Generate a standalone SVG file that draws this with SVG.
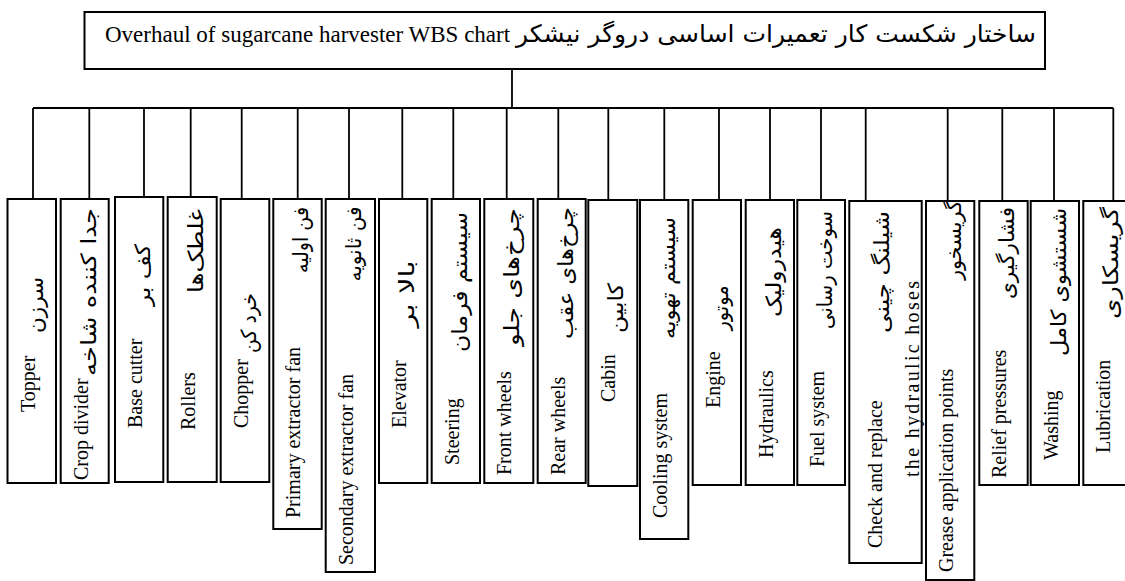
<svg xmlns="http://www.w3.org/2000/svg" width="1125" height="581" viewBox="0 0 1125 581">
<style>
.box{fill:#fff;stroke:#000;stroke-width:2}
.con{stroke:#000;stroke-width:1.8;fill:none}
.en{font-family:"Liberation Serif","Times New Roman",serif;font-size:20px;fill:#000}
.fa{font-family:"DejaVu Sans","Noto Sans",sans-serif;font-size:21px;fill:#000}
.ten{font-family:"Liberation Serif","Times New Roman",serif;font-size:23px;fill:#000}
.tfa{font-family:"DejaVu Sans","Noto Sans",sans-serif;font-size:24px;fill:#000}
</style>
<rect width="1125" height="581" fill="#fff"/>
<g id="connectors">
<line class="con" x1="512" y1="69" x2="512" y2="108"/>
<line class="con" x1="33" y1="108" x2="1113.3" y2="108"/>
<line class="con" x1="33" y1="108" x2="33" y2="199"/>
<line class="con" x1="89.3" y1="108" x2="89.3" y2="199"/>
<line class="con" x1="144" y1="108" x2="144" y2="197"/>
<line class="con" x1="190.7" y1="108" x2="190.7" y2="197"/>
<line class="con" x1="241.7" y1="108" x2="241.7" y2="199"/>
<line class="con" x1="297.7" y1="108" x2="297.7" y2="199"/>
<line class="con" x1="349" y1="108" x2="349" y2="199"/>
<line class="con" x1="402.3" y1="108" x2="402.3" y2="199"/>
<line class="con" x1="453.3" y1="108" x2="453.3" y2="199"/>
<line class="con" x1="506.7" y1="108" x2="506.7" y2="199"/>
<line class="con" x1="558.3" y1="108" x2="558.3" y2="199"/>
<line class="con" x1="608.3" y1="108" x2="608.3" y2="200"/>
<line class="con" x1="664.3" y1="108" x2="664.3" y2="200"/>
<line class="con" x1="719" y1="108" x2="719" y2="200"/>
<line class="con" x1="770" y1="108" x2="770" y2="200"/>
<line class="con" x1="821" y1="108" x2="821" y2="200"/>
<line class="con" x1="865.7" y1="108" x2="865.7" y2="201"/>
<line class="con" x1="947.7" y1="108" x2="947.7" y2="201"/>
<line class="con" x1="1002.3" y1="108" x2="1002.3" y2="201"/>
<line class="con" x1="1054" y1="108" x2="1054" y2="201"/>
<line class="con" x1="1113.3" y1="108" x2="1113.3" y2="201"/>
</g>
<g id="title">
<rect class="box" x="84.5" y="12" width="960.5" height="57"/>
<text class="ten" x="105" y="42">Overhaul of sugarcane harvester WBS chart</text>
<text class="tfa" x="776" y="42" text-anchor="middle" textLength="520" lengthAdjust="spacingAndGlyphs">ساختار شکست کار تعمیرات  اساسی دروگر نیشکر</text>
</g>
<g id="n1"><rect class="box" x="7.5" y="199" width="48.5" height="284"/>
<text class="en" x="34.5" y="412" transform="rotate(-90 34.5 412)">Topper</text>
<text class="fa" x="43" y="305" text-anchor="middle" textLength="56" lengthAdjust="spacingAndGlyphs" transform="rotate(-90 43 305)">سرزن</text></g>
<g id="n2"><rect class="box" x="60.7" y="199" width="48" height="284"/>
<text class="en" x="87.7" y="480" transform="rotate(-90 87.7 480)">Crop divider</text>
<text class="fa" x="95.7" y="292" text-anchor="middle" textLength="168" lengthAdjust="spacingAndGlyphs" transform="rotate(-90 95.7 292)">جدا کننده شاخه</text></g>
<g id="n3"><rect class="box" x="115" y="197" width="48.3" height="285"/>
<text class="en" x="142" y="428" transform="rotate(-90 142 428)">Base cutter</text>
<text class="fa" x="150" y="275" text-anchor="middle" textLength="62" lengthAdjust="spacingAndGlyphs" transform="rotate(-90 150 275)">کف بر</text></g>
<g id="n4"><rect class="box" x="167.7" y="197" width="49" height="285"/>
<text class="en" x="194.7" y="430" transform="rotate(-90 194.7 430)">Rollers</text>
<text class="fa" x="202.7" y="251" text-anchor="middle" textLength="84" lengthAdjust="spacingAndGlyphs" transform="rotate(-90 202.7 251)">غلطک‌ها</text></g>
<g id="n5"><rect class="box" x="220.7" y="199" width="48.6" height="283"/>
<text class="en" x="247.7" y="428" transform="rotate(-90 247.7 428)">Chopper</text>
<text class="fa" x="255.7" y="323" text-anchor="middle" textLength="60" lengthAdjust="spacingAndGlyphs" transform="rotate(-90 255.7 323)">خرد کن</text></g>
<g id="n6"><rect class="box" x="273.3" y="199" width="48.4" height="330"/>
<text class="en" x="300.3" y="518" transform="rotate(-90 300.3 518)">Primary extractor fan</text>
<text class="fa" x="308.3" y="240" text-anchor="middle" textLength="66" lengthAdjust="spacingAndGlyphs" transform="rotate(-90 308.3 240)">فن اولیه</text></g>
<g id="n7"><rect class="box" x="325.7" y="199" width="49.3" height="373"/>
<text class="en" x="352.7" y="565" transform="rotate(-90 352.7 565)">Secondary extractor fan</text>
<text class="fa" x="360.7" y="244" text-anchor="middle" textLength="75" lengthAdjust="spacingAndGlyphs" transform="rotate(-90 360.7 244)">فن ثانویه</text></g>
<g id="n8"><rect class="box" x="379" y="199" width="48.3" height="284"/>
<text class="en" x="406" y="428" transform="rotate(-90 406 428)">Elevator</text>
<text class="fa" x="414" y="294" text-anchor="middle" textLength="67" lengthAdjust="spacingAndGlyphs" transform="rotate(-90 414 294)">بالا بر</text></g>
<g id="n9"><rect class="box" x="431.7" y="199" width="48.3" height="284"/>
<text class="en" x="458.7" y="465" transform="rotate(-90 458.7 465)">Steering</text>
<text class="fa" x="466.7" y="282" text-anchor="middle" textLength="140" lengthAdjust="spacingAndGlyphs" transform="rotate(-90 466.7 282)">سیستم فرمان</text></g>
<g id="n10"><rect class="box" x="484.3" y="199" width="49" height="284"/>
<text class="en" x="511.3" y="475" transform="rotate(-90 511.3 475)">Front wheels</text>
<text class="fa" x="519.3" y="277" text-anchor="middle" textLength="138" lengthAdjust="spacingAndGlyphs" transform="rotate(-90 519.3 277)">چرخ‌های جلو</text></g>
<g id="n11"><rect class="box" x="537.7" y="199" width="48" height="284"/>
<text class="en" x="564.7" y="475" transform="rotate(-90 564.7 475)">Rear wheels</text>
<text class="fa" x="572.7" y="273" text-anchor="middle" textLength="132" lengthAdjust="spacingAndGlyphs" transform="rotate(-90 572.7 273)">چرخ‌های عقب</text></g>
<g id="n12"><rect class="box" x="588.3" y="200" width="49" height="286"/>
<text class="en" x="615.3" y="402" transform="rotate(-90 615.3 402)">Cabin</text>
<text class="fa" x="623.3" y="308" text-anchor="middle" textLength="50" lengthAdjust="spacingAndGlyphs" transform="rotate(-90 623.3 308)">کابین</text></g>
<g id="n13"><rect class="box" x="640" y="200" width="48.3" height="339"/>
<text class="en" x="667" y="518" transform="rotate(-90 667 518)">Cooling system</text>
<text class="fa" x="675" y="278" text-anchor="middle" textLength="122" lengthAdjust="spacingAndGlyphs" transform="rotate(-90 675 278)">سیستم تهویه</text></g>
<g id="n14"><rect class="box" x="692.7" y="200" width="48.3" height="285"/>
<text class="en" x="719.7" y="408" transform="rotate(-90 719.7 408)">Engine</text>
<text class="fa" x="727.7" y="308" text-anchor="middle" textLength="45" lengthAdjust="spacingAndGlyphs" transform="rotate(-90 727.7 308)">موتور</text></g>
<g id="n15"><rect class="box" x="745.7" y="200" width="48.3" height="285"/>
<text class="en" x="772.7" y="458" transform="rotate(-90 772.7 458)">Hydraulics</text>
<text class="fa" x="780.7" y="272" text-anchor="middle" textLength="90" lengthAdjust="spacingAndGlyphs" transform="rotate(-90 780.7 272)">هیدرولیک</text></g>
<g id="n16"><rect class="box" x="797.3" y="200" width="47.7" height="285"/>
<text class="en" x="824.3" y="467" transform="rotate(-90 824.3 467)">Fuel system</text>
<text class="fa" x="832.3" y="270" text-anchor="middle" textLength="118" lengthAdjust="spacingAndGlyphs" transform="rotate(-90 832.3 270)">سوخت رسانی</text></g>
<g id="n17"><rect class="box" x="849.3" y="201" width="72.4" height="362"/>
<text class="en" x="882" y="548" transform="rotate(-90 882 548)">Check and replace</text>
<text class="fa" x="889" y="272" text-anchor="middle" textLength="122" lengthAdjust="spacingAndGlyphs" transform="rotate(-90 889 272)">شیلنگ چینی</text>
<text class="en" x="919" y="477" textLength="196" lengthAdjust="spacing" transform="rotate(-90 919 477)">the hydraulic hoses</text></g>
<g id="n18"><rect class="box" x="926" y="201" width="48.3" height="379"/>
<text class="en" x="953" y="572" transform="rotate(-90 953 572)">Grease application points</text>
<text class="fa" x="961" y="240" text-anchor="middle" textLength="80" lengthAdjust="spacingAndGlyphs" transform="rotate(-90 961 240)">گریسخور</text></g>
<g id="n19"><rect class="box" x="979.3" y="201" width="48.4" height="284"/>
<text class="en" x="1006.3" y="478" transform="rotate(-90 1006.3 478)">Relief pressures</text>
<text class="fa" x="1014.3" y="253" text-anchor="middle" textLength="92" lengthAdjust="spacingAndGlyphs" transform="rotate(-90 1014.3 253)">فشارگیری</text></g>
<g id="n20"><rect class="box" x="1030.7" y="201" width="48.3" height="284"/>
<text class="en" x="1057.7" y="460" transform="rotate(-90 1057.7 460)">Washing</text>
<text class="fa" x="1065.7" y="282" text-anchor="middle" textLength="148" lengthAdjust="spacingAndGlyphs" transform="rotate(-90 1065.7 282)">شستشوی کامل</text></g>
<g id="n21"><rect class="box" x="1083.3" y="201" width="48" height="284"/>
<text class="en" x="1110.3" y="453" transform="rotate(-90 1110.3 453)">Lubrication</text>
<text class="fa" x="1118.3" y="263" text-anchor="middle" textLength="112" lengthAdjust="spacingAndGlyphs" transform="rotate(-90 1118.3 263)">گریسکاری</text></g>
</svg>
